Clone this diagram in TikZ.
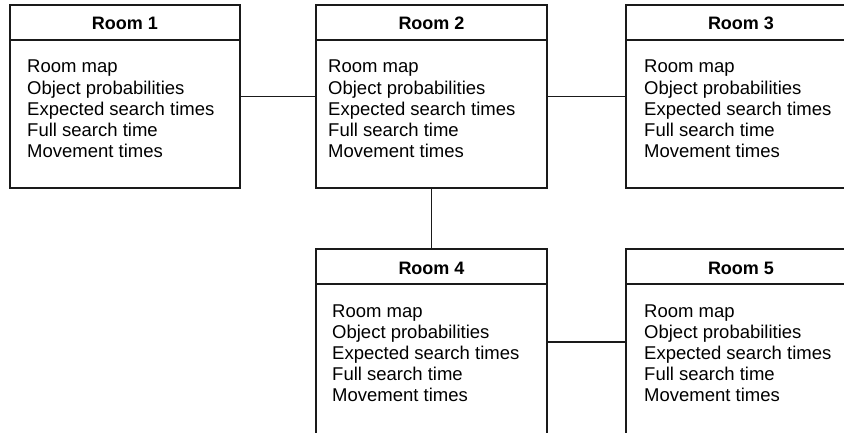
\documentclass[tikz,border=0pt]{standalone}
\usepackage{fontspec}
\setmainfont{Liberation Sans}
\definecolor{linecol}{HTML}{1A1A1A}
\tikzset{
  x=1pt, y=-1pt,
  roomframe/.style={draw=linecol, line width=1.2pt, inner sep=0pt, outer sep=0pt,
    minimum width=230pt, anchor=north west},
  roomline/.style={draw=linecol, line width=1.2pt},
  roomtitle/.style={anchor=base, inner sep=0pt, font=\bfseries\fontsize{18}{21}\selectfont},
  roomtext/.style={anchor=base west, inner sep=0pt, font=\fontsize{18.5}{21}\selectfont},
  link/.style={draw=linecol, line width=1.2pt}
}
\newcommand\roombox[7]{% name, x, y, title, text offset, height, width
  \node[roomframe, minimum height=#6pt, minimum width=#7pt] (#1) at (#2,#3) {};
  \draw[roomline] ([yshift=-35pt]#1.north west) -- ([yshift=-35pt]#1.north east);
  \node[roomtitle] (#1-t) at ([yshift=-25pt]#1.north) {#4};
  \foreach \t [count=\i] in {Room map, Object probabilities, Expected search times, Full search time, Movement times}{
    \pgfmathsetmacro\dy{-68-21.2*(\i-1)}
    \node[roomtext] (#1-\i) at ([xshift=#5pt, yshift=\dy pt]#1.north west) {\t};
  }
}
\begin{document}
\begin{tikzpicture}
  \useasboundingbox (0,0) rectangle (844,433);
  \clip (0,0) rectangle (844,433);
  \roombox{r1}{10}{5}{Room 1}{17}{183}{230}
  \roombox{r2}{316}{5}{Room 2}{12}{183}{231}
  \roombox{r3}{626}{5}{Room 3}{18}{183}{230}
  \roombox{r4}{316}{249}{Room 4}{16}{186}{231}
  \roombox{r5}{626}{249}{Room 5}{18}{186}{230}
  \draw[link] (r1) -- (r2);
  \draw[link] (r2) -- (r3);
  \draw[link] (r2) -- (r4);
  \draw[link] (r4) -- (r5);
\end{tikzpicture}
\end{document}
